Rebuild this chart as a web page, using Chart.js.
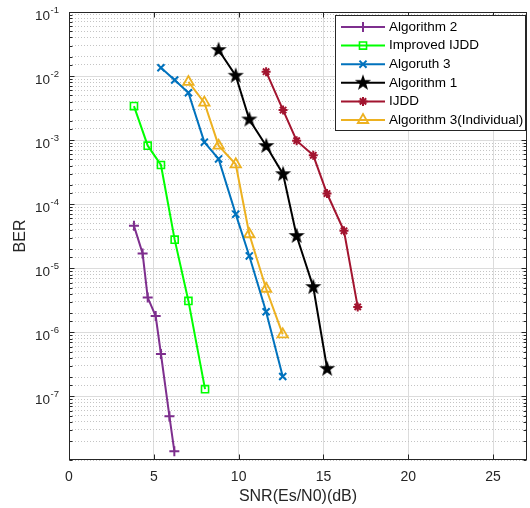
<!DOCTYPE html>
<html>
<head>
<meta charset="utf-8">
<script src="https://cdn.jsdelivr.net/npm/chart.js"></script>
<style>
  body { margin: 0; background: #fff; }
  #wrap { width: 530px; height: 508px; }
</style>
</head>
<body>
<div id="wrap"><canvas id="myChart" width="530" height="508"></canvas></div>
<script>
// data (SNR in dB, BER)
var labels = ["Algorithm 2", "Improved IJDD", "Algoruth 3", "Algorithm 1", "IJDD", "Algorithm 3(Individual)"];

var snrAlg2 = [3.83, 4.34, 4.64, 5.11, 5.42, 5.92, 6.21];
var berAlg2 = [4.6e-5, 1.7e-5, 3.5e-6, 1.8e-6, 4.6e-7, 4.9e-8, 1.4e-8];

var snrImpIjdd = [3.83, 4.64, 5.42, 6.23, 7.04, 8.02];
var berImpIjdd = [3.4e-3, 8.2e-4, 4.1e-4, 2.8e-5, 3.1e-6, 1.3e-7];

var snrAlg3 = [5.42, 6.23, 7.04, 7.98, 8.82, 9.83, 10.63, 11.62, 12.6];
var berAlg3 = [1.35e-2, 8.7e-3, 5.5e-3, 9.3e-4, 5.1e-4, 7e-5, 1.56e-5, 2.1e-6, 2.05e-7];

var snrAlg1 = [8.82, 9.83, 10.63, 11.63, 12.62, 13.42, 14.4, 15.22];
var berAlg1 = [2.55e-2, 1.01e-2, 2.1e-3, 8.1e-4, 2.95e-4, 3.2e-5, 5.1e-6, 2.7e-7];

var snrIjdd = [11.62, 12.62, 13.42, 14.4, 15.21, 16.21, 17.02];
var berIjdd = [1.17e-2, 2.95e-3, 9.8e-4, 5.8e-4, 1.47e-4, 3.85e-5, 2.5e-6];

var snrAlg3i = [7.04, 7.98, 8.82, 9.83, 10.63, 11.62, 12.6];
var berAlg3i = [8.1e-3, 3.85e-3, 8.2e-4, 4.2e-4, 3.4e-5, 4.8e-6, 9.3e-7];

var xTicks = [0, 5, 10, 15, 20, 25];
var colors = ["#7E2F8E", "#00FF00", "#0072BD", "#000000", "#A2142F", "#EDB120"];

var FONT = "'Liberation Sans', Arial, sans-serif";
var AXIS = "#262626";

// filled pentagram marker (matlab 'p')
function makeStar(color) {
  let c = document.createElement("canvas");
  c.width = 18;
  c.height = 18;
  let g = c.getContext("2d");
  g.fillStyle = color;
  g.beginPath();
  for (let i = 0; i < 10; i++) {
    let r = i % 2 === 0 ? 8.5 : 3.4;
    let a = -Math.PI / 2 + (i * Math.PI) / 5;
    let px = 9 + r * Math.cos(a);
    let py = 9 + r * Math.sin(a);
    if (i === 0) g.moveTo(px, py);
    else g.lineTo(px, py);
  }
  g.closePath();
  g.fill();
  return c;
}
var starImg = makeStar("#000000");

var markers = [
  { pointStyle: "cross", radius: 5, borderWidth: 2 },
  { pointStyle: "rect", radius: 5, borderWidth: 1.6 },
  { pointStyle: "crossRot", radius: 5, borderWidth: 2 },
  { pointStyle: starImg, radius: 8, borderWidth: 0 },
  { pointStyle: "star", radius: 4.5, borderWidth: 2 },
  { pointStyle: "triangle", radius: 6, borderWidth: 1.8 },
];

function toPoints(xs, ys) {
  return xs.map(function (x, i) {
    return { x: x, y: ys[i] };
  });
}

var series = [
  toPoints(snrAlg2, berAlg2),
  toPoints(snrImpIjdd, berImpIjdd),
  toPoints(snrAlg3, berAlg3),
  toPoints(snrAlg1, berAlg1),
  toPoints(snrIjdd, berIjdd),
  toPoints(snrAlg3i, berAlg3i),
];

var datasets = series.map(function (pts, i) {
  return {
    label: labels[i],
    data: pts,
    showLine: true,
    borderColor: colors[i],
    borderWidth: 2,
    backgroundColor: colors[i],
    pointStyle: markers[i].pointStyle,
    pointRadius: markers[i].radius,
    pointHoverRadius: markers[i].radius,
    pointBorderWidth: markers[i].borderWidth,
    pointBorderColor: colors[i],
    pointBackgroundColor: "rgba(0,0,0,0)",
    order: i,
  };
});

function isDecade(v) {
  let l = Math.log10(v);
  return Math.abs(l - Math.round(l)) < 1e-6;
}

// axes box, inward ticks, y labels, titles and legend like matlab
var matlabPlugin = {
  id: "matlabLook",
  afterDraw: function (chart) {
    let ctx = chart.ctx;
    let a = chart.chartArea;
    let xs = chart.scales.x;
    let ys = chart.scales.y;
    let L = Math.round(a.left) + 0.5;
    let R = Math.round(a.right) - 0.5;
    let T = Math.round(a.top) + 0.5;
    let B = Math.round(a.bottom) - 0.5;

    ctx.save();
    ctx.strokeStyle = AXIS;
    ctx.lineWidth = 1;
    ctx.strokeRect(L, T, R - L, B - T);

    // ticks
    ctx.beginPath();
    ys.ticks.forEach(function (t) {
      let py = Math.round(ys.getPixelForValue(t.value)) + 0.5;
      let len = isDecade(t.value) ? 5 : 3;
      ctx.moveTo(L, py);
      ctx.lineTo(L + len, py);
      ctx.moveTo(R, py);
      ctx.lineTo(R - len, py);
    });
    xTicks.forEach(function (v) {
      let px = Math.round(xs.getPixelForValue(v)) + 0.5;
      ctx.moveTo(px, B);
      ctx.lineTo(px, B - 5);
      ctx.moveTo(px, T);
      ctx.lineTo(px, T + 5);
    });
    ctx.stroke();

    // y tick labels 10^n
    ctx.fillStyle = AXIS;
    ys.ticks.forEach(function (t) {
      if (!isDecade(t.value)) return;
      let py = ys.getPixelForValue(t.value);
      let e = Math.round(Math.log10(t.value));
      ctx.font = "13.5px " + FONT;
      ctx.textAlign = "right";
      ctx.textBaseline = "alphabetic";
      ctx.fillText("10", 50, py + 7.5);
      ctx.font = "9.5px " + FONT;
      ctx.textAlign = "left";
      ctx.fillText(String(e), 50.5, py + 1);
    });

    // axis titles
    ctx.font = "16px " + FONT;
    ctx.textAlign = "center";
    ctx.textBaseline = "middle";
    ctx.fillText("SNR(Es/N0)(dB)", (a.left + a.right) / 2, 497);
    ctx.save();
    ctx.translate(21, (a.top + a.bottom) / 2);
    ctx.rotate(-Math.PI / 2);
    ctx.fillText("BER", 0, 0);
    ctx.restore();

    // legend
    let bx = 335.5, by = 15.5, bw = 190, bh = 115;
    ctx.fillStyle = "#ffffff";
    ctx.fillRect(bx, by, bw, bh);
    ctx.strokeStyle = AXIS;
    ctx.lineWidth = 1;
    ctx.strokeRect(bx, by, bw, bh);
    labels.forEach(function (lab, i) {
      let ry = 27 + i * 18.6;
      ctx.strokeStyle = colors[i];
      ctx.lineWidth = 2;
      ctx.beginPath();
      ctx.moveTo(341, ry);
      ctx.lineTo(385, ry);
      ctx.stroke();
      ctx.fillStyle = "rgba(0,0,0,0)";
      ctx.lineWidth = markers[i].borderWidth;
      Chart.helpers.drawPoint(ctx, {
        pointStyle: markers[i].pointStyle,
        radius: markers[i].radius,
        rotation: 0,
        borderWidth: markers[i].borderWidth,
      }, 363, ry);
      ctx.fillStyle = "#000000";
      ctx.font = "13.5px " + FONT;
      ctx.textAlign = "left";
      ctx.textBaseline = "middle";
      ctx.fillText(lab, 389, ry);
    });
    ctx.restore();
  },
};

new Chart("myChart", {
  type: "scatter",
  data: { datasets: datasets },
  options: {
    responsive: false,
    animation: false,
    layout: { autoPadding: false, padding: { top: 12, right: 3, left: 0, bottom: 0 } },
    plugins: {
      legend: { display: false },
      tooltip: { enabled: false },
    },
    scales: {
      x: {
        type: "linear",
        min: 0,
        max: 27,
        afterFit: function (s) {
          s.height = 48;
          s.paddingLeft = 0;
          s.paddingRight = 0;
        },
        afterBuildTicks: function (s) {
          s.ticks = xTicks.map(function (v) {
            return { value: v };
          });
        },
        ticks: {
          color: AXIS,
          font: { family: FONT, size: 14 },
          padding: 9,
          maxRotation: 0,
        },
        grid: {
          color: "#dcdcdc",
          lineWidth: 1,
          drawTicks: false,
        },
        border: { display: false },
      },
      y: {
        type: "logarithmic",
        min: 1.02e-8,
        max: 1e-1,
        afterFit: function (s) {
          s.width = 69;
          s.paddingTop = 0;
          s.paddingBottom = 0;
        },
        ticks: { display: false },
        grid: {
          drawTicks: false,
          lineWidth: 1,
          color: function (c) {
            if (!c.tick) return "#dcdcdc";
            return isDecade(c.tick.value) ? "#dcdcdc" : "#c4c4c4";
          },
        },
        border: {
          display: false,
          dash: function (c) {
            if (!c.tick) return [];
            return isDecade(c.tick.value) ? [] : [1, 2];
          },
        },
      },
    },
  },
  plugins: [matlabPlugin],
});
</script>
</body>
</html>
